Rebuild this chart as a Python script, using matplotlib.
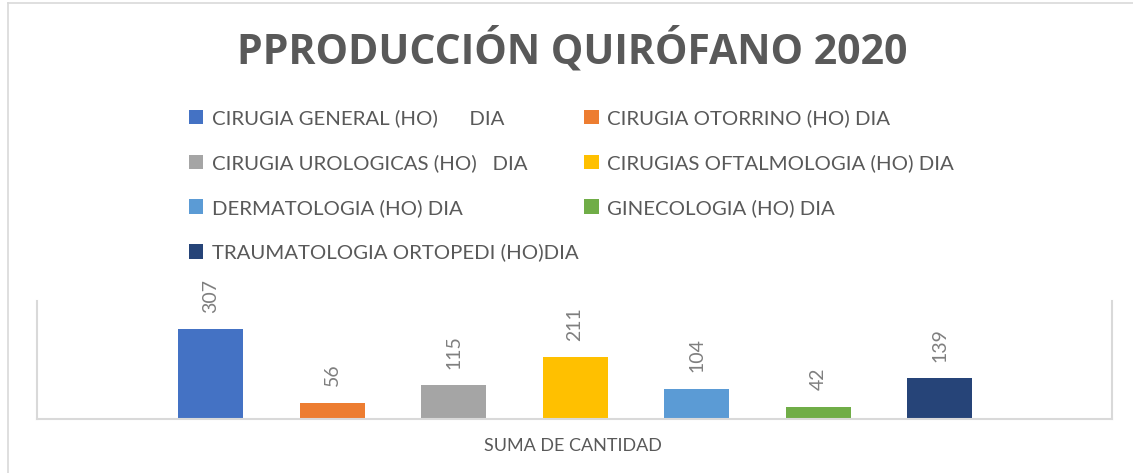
import numpy as np
import matplotlib.pyplot as plt
from matplotlib.lines import Line2D

# datos del grafico
servicios = ['CIRUGIA GENERAL (HO)      DIA', 'CIRUGIA OTORRINO (HO) DIA',
             'CIRUGIA UROLOGICAS (HO)   DIA', 'CIRUGIAS OFTALMOLOGIA (HO) DIA',
             'DERMATOLOGIA (HO) DIA', 'GINECOLOGIA (HO) DIA',
             'TRAUMATOLOGIA ORTOPEDI (HO)DIA']
cantidad = [307, 56, 115, 211, 104, 42, 139]
colores = ['#4472C4', '#ED7D31', '#A5A5A5', '#FFC000', '#5B9BD5', '#70AD47', '#264478']
titulo = 'PPRODUCCIÓN QUIRÓFANO 2020'
etiqueta_x = 'SUMA DE CANTIDAD'

gris = '#595959'
W, H = 1133, 473
fig = plt.figure(figsize=(W / 100, H / 100), dpi=100)

# marco del grafico
fig.add_artist(Line2D([8 / W, 8 / W], [0, 1 - 3 / H], color='#D9D9D9', lw=1.2))
fig.add_artist(Line2D([8 / W, 1], [1 - 3 / H, 1 - 3 / H], color='#D9D9D9', lw=1.2))

ax = fig.add_axes([37 / W, 1 - 419 / H, (1112 - 37) / W, (419 - 301) / H])
x = np.arange(len(cantidad))
barras = ax.bar(x, cantidad, width=0.535, color=colores)
ax.set_xlim(-1.43, len(cantidad) - 1 + 1.42)
ax.set_ylim(0, 404)

for xi, v in zip(x, cantidad):
    ax.annotate(str(v), (xi, v), xytext=(0, 12), textcoords='offset points',
                rotation=90, ha='center', va='bottom', color='#7F7F7F',
                fontsize=14, family='Lato')

ax.set_xticks([])
ax.set_yticks([])
ax.spines['top'].set_visible(False)
for s in ['left', 'right', 'bottom']:
    ax.spines[s].set_color('#D9D9D9')
    ax.spines[s].set_linewidth(1.5)

fig.text(572 / W, 1 - 51 / H, titulo, ha='center', va='center', fontsize=29.5,
         fontweight='bold', color=gris, family='Open Sans')
fig.text(573 / W, 1 - 446 / H, etiqueta_x, ha='center', va='center', fontsize=13,
         color=gris, family='Lato')

# leyenda en dos columnas, orden por filas
orden = [0, 2, 4, 6, 1, 3, 5]
handles = [barras[i] for i in orden]
labels = [servicios[i] for i in orden]
leg = fig.legend(handles, labels, ncol=2, loc='upper left',
                 bbox_to_anchor=(181 / W, 1 - 101 / H), frameon=False,
                 prop={'family': 'Lato', 'size': 14.7}, labelcolor=gris,
                 handlelength=0.7, handleheight=0.7, handletextpad=0.4,
                 columnspacing=0.3, labelspacing=1.32, borderaxespad=0)

fig.savefig('out.png', dpi=100)
